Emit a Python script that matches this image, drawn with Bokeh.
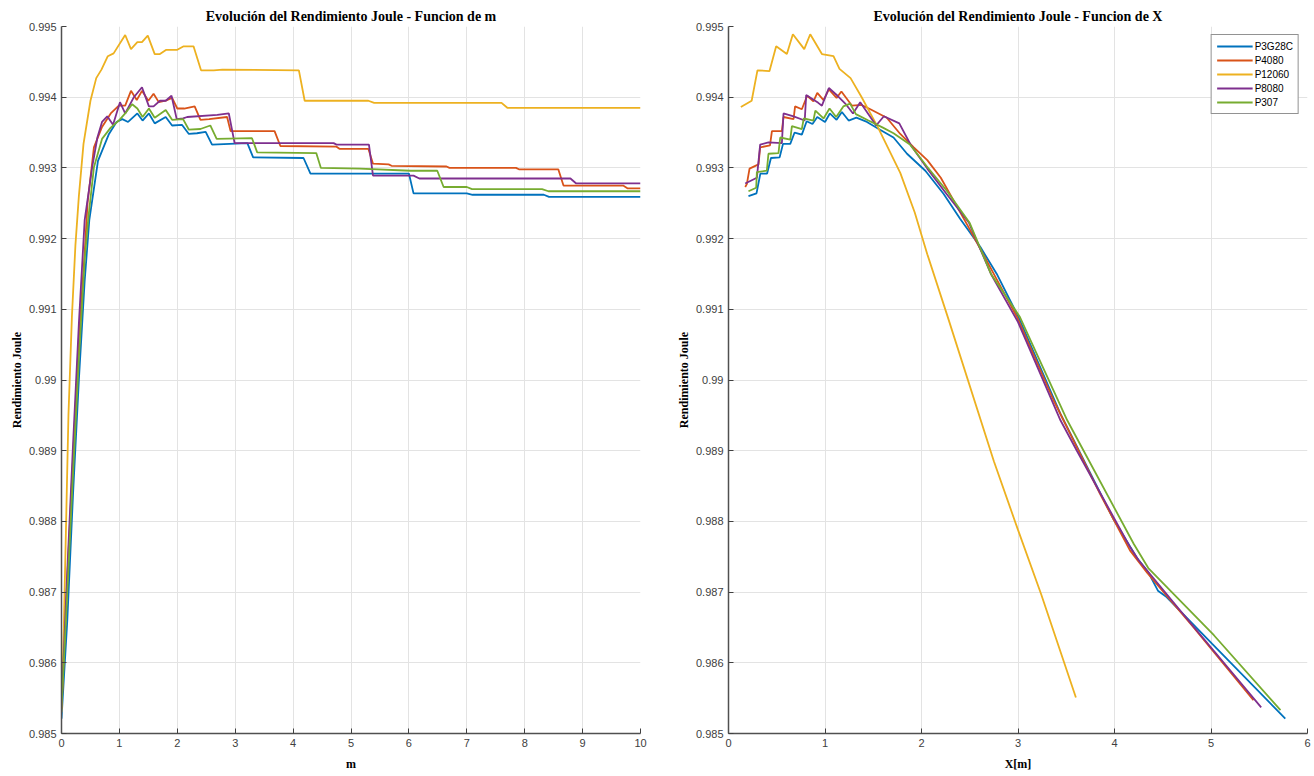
from bokeh.plotting import figure
from bokeh.layouts import row
from bokeh.models import FixedTicker, Legend, LegendItem
from bokeh.embed import file_html
from bokeh.resources import INLINE

# ---------------- data ----------------
series_names = ["P3G28C", "P4080", "P12060", "P8080", "P307"]
colors = ["#0072BD", "#D95319", "#EDB120", "#7E2F8E", "#77AC30"]

titles = ["Evolución del Rendimiento Joule - Funcion de m",
          "Evolución del Rendimiento Joule - Funcion de X"]
y_label = "Rendimiento Joule"
x_labels = ["m", "X[m]"]

y_ticks = [0.985, 0.986, 0.987, 0.988, 0.989, 0.990, 0.991, 0.992, 0.993, 0.994, 0.995]
y_tick_labels = ["0.985", "0.986", "0.987", "0.988", "0.989", "0.99", "0.991",
                 "0.992", "0.993", "0.994", "0.995"]
x_ticks_m = [0, 1, 2, 3, 4, 5, 6, 7, 8, 9, 10]
x_ticks_x = [0, 1, 2, 3, 4, 5, 6]

# --- Left: function of m ---
m_p3g28c = [0, 0.1, 0.2, 0.3, 0.4, 0.48, 0.63, 0.82, 0.95, 1.05, 1.15, 1.31, 1.40, 1.51, 1.61,
            1.80, 1.91, 2.08, 2.20, 2.34, 2.49, 2.60, 3.21, 3.31, 4.18, 4.30, 6.00, 6.08,
            7.00, 7.10, 8.33, 8.42, 10]
j_p3g28c = [0.98521, 0.9866, 0.9884, 0.9900, 0.9914, 0.99226, 0.99310, 0.99348, 0.99365,
            0.99369, 0.99365, 0.99377, 0.99367, 0.99377, 0.99363, 0.99372, 0.99360, 0.99361,
            0.99348, 0.99349, 0.99351, 0.99333, 0.99335, 0.99315, 0.99314, 0.99292, 0.99292,
            0.99264, 0.99264, 0.99262, 0.99262, 0.99259, 0.99259]

m_p4080 = [0, 0.1, 0.2, 0.3, 0.4, 0.45, 0.56, 0.70, 0.85, 0.99, 1.10, 1.20, 1.30, 1.39, 1.50,
           1.59, 1.68, 1.80, 1.91, 2.00, 2.12, 2.30, 2.40, 2.55, 2.86, 2.92, 3.68, 3.78,
           4.75, 4.80, 5.30, 5.38, 5.65, 5.70, 6.65, 6.70, 7.85, 7.90, 8.58, 8.67, 9.70,
           9.78, 10]
j_p4080 = [0.98535, 0.9872, 0.9889, 0.9906, 0.9918, 0.99250, 0.99329, 0.99358, 0.99377,
           0.99388, 0.99388, 0.99409, 0.99396, 0.99409, 0.99395, 0.99405, 0.99393, 0.99395,
           0.99399, 0.99384, 0.99384, 0.99387, 0.99368, 0.99369, 0.99372, 0.99352, 0.99352,
           0.99331, 0.99330, 0.99327, 0.99327, 0.99306, 0.99305, 0.99303, 0.99302, 0.99300,
           0.99300, 0.99298, 0.99298, 0.99275, 0.99275, 0.99271, 0.99271]

m_p12060 = [0, 0.04, 0.08, 0.12, 0.18, 0.24, 0.30, 0.38, 0.50, 0.60, 0.69, 0.80, 0.90, 1.10,
            1.20, 1.31, 1.39, 1.49, 1.61, 1.70, 1.81, 2.00, 2.11, 2.28, 2.41, 2.63, 2.78,
            4.10, 4.20, 5.30, 5.40, 7.60, 7.70, 10]
j_p12060 = [0.98530, 0.9865, 0.9880, 0.9895, 0.9909, 0.9919, 0.9926, 0.99334, 0.99395,
            0.99427, 0.99439, 0.99458, 0.99462, 0.99488, 0.99468, 0.99478, 0.99478, 0.99487,
            0.99461, 0.99461, 0.99467, 0.99467, 0.99472, 0.99472, 0.99438, 0.99438, 0.99439,
            0.99438, 0.99395, 0.99395, 0.99392, 0.99392, 0.99385, 0.99385]

m_p8080 = [0, 0.1, 0.2, 0.3, 0.4, 0.53, 0.62, 0.70, 0.79, 0.89, 1.01, 1.10, 1.25, 1.39, 1.51,
           1.59, 1.70, 1.80, 1.90, 1.99, 2.10, 2.17, 2.69, 2.89, 2.99, 4.70, 4.75, 5.31,
           5.38, 6.08, 6.18, 8.79, 8.89, 10]
j_p8080 = [0.98535, 0.9873, 0.9891, 0.9908, 0.99226, 0.99301, 0.99343, 0.99365, 0.99373,
           0.99361, 0.99393, 0.99377, 0.99400, 0.99414, 0.99387, 0.99387, 0.99395, 0.99395,
           0.99402, 0.99369, 0.99370, 0.99372, 0.99375, 0.99377, 0.99335, 0.99335, 0.99333,
           0.99333, 0.99289, 0.99289, 0.99285, 0.99285, 0.99278, 0.99278]

m_p307 = [0, 0.1, 0.2, 0.3, 0.4, 0.46, 0.56, 0.70, 0.85, 0.99, 1.10, 1.22, 1.31, 1.40, 1.51,
          1.61, 1.80, 1.91, 2.10, 2.20, 2.40, 2.57, 2.68, 3.29, 3.38, 4.40, 4.48, 5.15,
          6.03, 6.49, 6.60, 7.00, 7.09, 8.30, 8.41, 10]
j_p307 = [0.98535, 0.9870, 0.9887, 0.9903, 0.9917, 0.99226, 0.99301, 0.99341, 0.99357,
          0.99367, 0.99377, 0.99390, 0.99384, 0.99372, 0.99384, 0.99371, 0.99382, 0.99368,
          0.99369, 0.99354, 0.99355, 0.99360, 0.99341, 0.99342, 0.99322, 0.99321, 0.99300,
          0.99299, 0.99296, 0.99296, 0.99273, 0.99273, 0.99270, 0.99270, 0.99267, 0.99267]

# --- Right: function of X ---
x_p3g28c = [0.207, 0.29, 0.33, 0.40, 0.44, 0.53, 0.565, 0.64, 0.685, 0.76, 0.81, 0.87, 0.92,
            1.0, 1.05, 1.12, 1.175, 1.245, 1.325, 1.435, 1.57, 1.71, 1.85, 2.04, 2.23, 2.40,
            2.61, 2.78, 3.005, 3.44, 3.99, 4.23, 4.35, 4.45, 4.54, 5.01, 5.77]
jx_p3g28c = [0.99260, 0.99264, 0.99292, 0.99292, 0.99314, 0.99315, 0.99334, 0.99334, 0.99350,
             0.99347, 0.99366, 0.99362, 0.99372, 0.99365, 0.99377, 0.99368, 0.99379, 0.99367,
             0.99371, 0.99365, 0.99354, 0.99343, 0.99320, 0.99296, 0.99263, 0.99228, 0.99188,
             0.99150, 0.99089, 0.98952, 0.98803, 0.98749, 0.98728, 0.98702, 0.98693, 0.98627,
             0.98521]

x_p4080 = [0.173, 0.19, 0.218, 0.311, 0.328, 0.43, 0.45, 0.553, 0.57, 0.674, 0.69, 0.76, 0.815,
           0.88, 0.92, 0.985, 1.04, 1.12, 1.17, 1.28, 1.38, 1.47, 1.64, 1.78, 1.92, 2.06, 2.20,
           2.48, 2.71, 2.99, 3.37, 3.85, 4.16, 4.34, 4.82, 5.44]
jx_p4080 = [0.99273, 0.99277, 0.99299, 0.99305, 0.99329, 0.99332, 0.99352, 0.99352, 0.99372,
            0.99369, 0.99387, 0.99383, 0.99402, 0.99394, 0.99406, 0.99396, 0.99411, 0.99399,
            0.99408, 0.99388, 0.99389, 0.99383, 0.99371, 0.99348, 0.99329, 0.99311, 0.99286,
            0.99218, 0.99160, 0.99089, 0.98971, 0.98839, 0.98759, 0.98727, 0.98650, 0.98547]

x_p12060 = [0.128, 0.24, 0.30, 0.425, 0.494, 0.605, 0.667, 0.785, 0.847, 0.968, 1.088, 1.15,
            1.265, 1.38, 1.55, 1.78, 1.93, 2.06, 2.27, 2.75, 3.0, 3.24, 3.60]
jx_p12060 = [0.99386, 0.99395, 0.99438, 0.99437, 0.99472, 0.99461, 0.99489, 0.99468, 0.99489,
             0.99461, 0.99458, 0.99440, 0.99427, 0.99400, 0.99357, 0.99293, 0.99237, 0.99178,
             0.99090, 0.98885, 0.98788, 0.98697, 0.98551]

x_p8080 = [0.173, 0.294, 0.328, 0.414, 0.553, 0.57, 0.674, 0.79, 0.805, 0.93, 0.968, 1.04, 1.13,
           1.21, 1.29, 1.365, 1.53, 1.61, 1.77, 1.89, 2.06, 2.26, 2.49, 2.72, 3.0, 3.44, 3.61,
           4.16, 4.25, 4.82, 5.52]
jx_p8080 = [0.99278, 0.99286, 0.99333, 0.99336, 0.99335, 0.99377, 0.99373, 0.99367, 0.99403,
            0.99392, 0.99388, 0.99413, 0.99402, 0.99391, 0.99377, 0.99393, 0.99360, 0.99373,
            0.99363, 0.99332, 0.99299, 0.99263, 0.99223, 0.99150, 0.99082, 0.98943, 0.98900,
            0.98764, 0.98745, 0.98651, 0.98537]

x_p307 = [0.207, 0.287, 0.294, 0.397, 0.414, 0.518, 0.536, 0.64, 0.657, 0.76, 0.78, 0.88, 0.90,
          0.985, 1.047, 1.116, 1.19, 1.26, 1.32, 1.45, 1.60, 1.71, 1.88, 2.05, 2.26, 2.50, 2.72,
          3.02, 3.51, 3.68, 4.20, 4.35, 5.03, 5.72]
jx_p307 = [0.99267, 0.99272, 0.99294, 0.99296, 0.99320, 0.99321, 0.99343, 0.99340, 0.99359,
           0.99355, 0.99370, 0.99367, 0.99381, 0.99370, 0.99384, 0.99372, 0.99387, 0.99391,
           0.99376, 0.99367, 0.99357, 0.99349, 0.99333, 0.99303, 0.99268, 0.99222, 0.99150,
           0.99089, 0.98943, 0.98900, 0.98768, 0.98734, 0.98639, 0.98533]

left_x = [m_p3g28c, m_p4080, m_p12060, m_p8080, m_p307]
left_y = [j_p3g28c, j_p4080, j_p12060, j_p8080, j_p307]
right_x = [x_p3g28c, x_p4080, x_p12060, x_p8080, x_p307]
right_y = [jx_p3g28c, jx_p4080, jx_p12060, jx_p8080, jx_p307]

SERIF = "Liberation Serif"
SANS = "Liberation Sans"


def make_fig(title, xlabel, xmax, xticks, right_border):
    p = figure(frame_width=579, frame_height=707, x_range=(0, xmax), y_range=(0.985, 0.995),
               output_backend="svg", toolbar_location=None,
               min_border_left=61, min_border_right=right_border,
               min_border_top=26, min_border_bottom=43)
    p.title.text = title
    p.title.align = "center"
    p.title.text_font = SERIF
    p.title.text_font_style = "bold"
    p.title.text_font_size = "14px"
    p.title.text_color = "#000000"
    p.title.standoff = 6
    p.outline_line_color = None
    p.background_fill_color = "white"
    p.border_fill_color = "white"

    p.xaxis.ticker = FixedTicker(ticks=xticks)
    p.yaxis.ticker = FixedTicker(ticks=y_ticks)
    p.yaxis.major_label_overrides = {t: l for t, l in zip(y_ticks, y_tick_labels)}
    p.xaxis.axis_label = xlabel
    p.yaxis.axis_label = y_label
    for ax in (p.xaxis, p.yaxis):
        ax.axis_label_text_font = SERIF
        ax.axis_label_text_font_style = "bold"
        ax.axis_label_text_font_size = "12px"
        ax.axis_label_text_color = "#000000"
        ax.major_label_text_font = SANS
        ax.major_label_text_font_size = "11px"
        ax.major_label_text_color = "#404040"
        ax.axis_line_color = "#505050"
        ax.axis_line_width = 1.5
        ax.major_tick_line_color = "#404040"
        ax.major_tick_in = 5
        ax.major_tick_out = 0
        ax.minor_tick_line_color = None
    p.xaxis.major_label_standoff = 5
    p.yaxis.major_label_standoff = 5
    p.xaxis.axis_label_standoff = 7
    p.yaxis.axis_label_standoff = 2
    p.xgrid.grid_line_color = "#e3e3e3"
    p.ygrid.grid_line_color = "#e3e3e3"
    return p


p1 = make_fig(titles[0], x_labels[0], 10, x_ticks_m, 27)
for xs, ys, c in zip(left_x, left_y, colors):
    p1.line(xs, ys, line_color=c, line_width=1.8)

p2 = make_fig(titles[1], x_labels[1], 6, x_ticks_x, 7)
items = []
for xs, ys, c, n in zip(right_x, right_y, colors, series_names):
    r = p2.line(xs, ys, line_color=c, line_width=1.8)
    items.append(LegendItem(label=n, renderers=[r]))

legend = Legend(items=items, location="top_right")
legend.margin = 8
legend.padding = 5
legend.spacing = 2
legend.glyph_width = 36
legend.glyph_height = 12
legend.label_height = 12
legend.label_standoff = 2
legend.label_text_font = SANS
legend.label_text_font_size = "10px"
legend.label_text_color = "#000000"
legend.border_line_color = "#262626"
legend.border_line_width = 1
legend.background_fill_color = "white"
legend.background_fill_alpha = 1.0
p2.add_layout(legend)

layout = row(p1, p2)
open("out.html", "w").write(file_html(layout, INLINE))
